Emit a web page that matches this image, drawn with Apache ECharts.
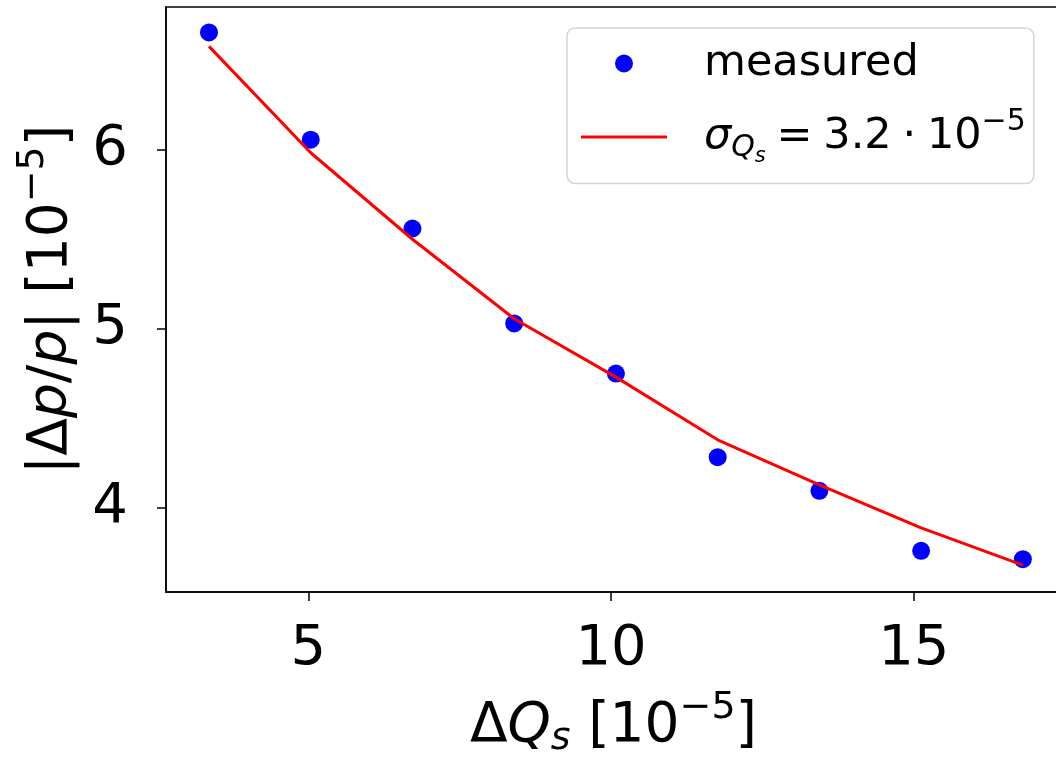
<!DOCTYPE html>
<html>
<head>
<meta charset="utf-8">
<script src="https://cdn.jsdelivr.net/npm/echarts@6/dist/echarts.min.js"></script>
<style>
  html, body { margin: 0; padding: 0; background: #fff; }
  #chart { width: 1056px; height: 758px; }
</style>
</head>
<body>
<div id="chart"></div>
<script>
// delta Q_s [1e-5]
var dq = [3.36, 5.04, 6.72, 8.40, 10.08, 11.76, 13.44, 15.12, 16.80];
// measured |dp/p| [1e-5]
var measured = [6.655, 6.056, 5.56, 5.03, 4.75, 4.283, 4.095, 3.76, 3.713];
// fit with sigma_Qs = 3.2e-5
var fit = [6.577, 5.983, 5.50, 5.056, 4.73, 4.38, 4.128, 3.888, 3.68];
var xTicks = [5, 10, 15];
var yTicks = [4, 5, 6];

var FONT = 'DejaVu Sans';
var chart = echarts.init(document.getElementById('chart'));

var sub = function (size, down) {
    return { fontFamily: FONT, fontStyle: 'italic', fontSize: size, color: '#000', padding: [down * 2, 0, 0, 0] };
};
var sup = function (size, up) {
    return { fontFamily: FONT, fontSize: size, color: '#000', padding: [0, 0, up * 2, 0] };
};

var option = {
    animation: false,
    grid: {
        left: 166, top: 7, width: 895, height: 585,
        outerBoundsMode: 'none',
        containLabel: false,
        show: true, borderColor: '#000', borderWidth: 1.5, backgroundColor: '#fff'
    },
    legend: {
        orient: 'vertical',
        left: 567, top: 28,
        padding: [14, 8, 16, 14],
        itemGap: 22,
        itemWidth: 86, itemHeight: 18,
        backgroundColor: '#fff',
        borderColor: '#d4d4d4', borderWidth: 1.5, borderRadius: 8,
        data: [
            { name: 'measured', icon: 'circle' },
            { name: 'fit', icon: 'path://M0,0H86V3H0Z', itemStyle: { color: '#ff0000' } }
        ],
        formatter: function (name) {
            if (name === 'measured') return '{g|measured}';
            return '{gs|σ}{q|Q}{ss|s}{t|\u2005=\u20053.2\u2005·\u200510}{sp|−5}';
        },
        textStyle: {
            fontFamily: FONT, fontSize: 43, color: '#000',
            rich: {
                g: { fontFamily: FONT, fontSize: 43, color: '#000', lineHeight: 52, padding: [0, 0, 0, 32] },
                gs: { fontFamily: FONT, fontStyle: 'italic', fontSize: 43, color: '#000', lineHeight: 52, padding: [0, 0, 0, 32] },
                q: sub(30, 11),
                ss: sub(21, 20),
                t: { fontFamily: FONT, fontSize: 43, color: '#000', lineHeight: 52 },
                sp: sup(30, 15)
            }
        }
    },
    xAxis: {
        type: 'value',
        min: 2.65, max: 17.43,
        splitLine: { show: false },
        axisLine: { onZero: false, lineStyle: { color: '#000', width: 1.5 } },
        axisTick: { customValues: xTicks, length: 9, lineStyle: { color: '#000', width: 1.5 } },
        axisLabel: { customValues: xTicks, margin: 29, fontFamily: FONT, fontSize: 56, color: '#000' },
        name: '{b|Δ}{i|Q}{s|s}{b| [10}{p|−5}{b|]}',
        nameLocation: 'middle',
        nameGap: 97,
        nameTextStyle: {
            fontFamily: FONT, fontSize: 55, color: '#000',
            rich: {
                b: { fontFamily: FONT, fontSize: 55, color: '#000', lineHeight: 62 },
                i: { fontFamily: FONT, fontStyle: 'italic', fontSize: 55, color: '#000', lineHeight: 62 },
                s: sub(38, 12),
                p: sup(38, 19)
            }
        }
    },
    yAxis: {
        type: 'value',
        min: 3.53, max: 6.797,
        splitLine: { show: false },
        axisLine: { onZero: false, lineStyle: { color: '#000', width: 1.5 } },
        axisTick: { customValues: yTicks, length: 9, lineStyle: { color: '#000', width: 1.5 } },
        axisLabel: { customValues: yTicks, margin: 38, fontFamily: FONT, fontSize: 56, color: '#000' },
        name: '{b||Δ}{i|p}{b|/}{i|p}{b|| [10}{p|−5}{b|]}',
        nameLocation: 'middle',
        nameRotate: 90,
        nameGap: 76,
        nameTextStyle: {
            fontFamily: FONT, fontSize: 55, color: '#000',
            rich: {
                b: { fontFamily: FONT, fontSize: 55, color: '#000', lineHeight: 62 },
                i: { fontFamily: FONT, fontStyle: 'italic', fontSize: 55, color: '#000', lineHeight: 62 },
                p: sup(38, 19)
            }
        }
    },
    series: [
        {
            name: 'measured',
            type: 'scatter',
            symbol: 'circle',
            symbolSize: 18,
            itemStyle: { color: '#0000ff', opacity: 1 },
            data: dq.map(function (x, i) { return [x, measured[i]]; })
        },
        {
            name: 'fit',
            type: 'line',
            showSymbol: false,
            symbol: 'none',
            z: 3,
            lineStyle: { color: '#ff0000', width: 3 },
            itemStyle: { color: '#ff0000' },
            data: dq.map(function (x, i) { return [x, fit[i]]; })
        }
    ]
};

chart.setOption(option);
</script>
</body>
</html>
